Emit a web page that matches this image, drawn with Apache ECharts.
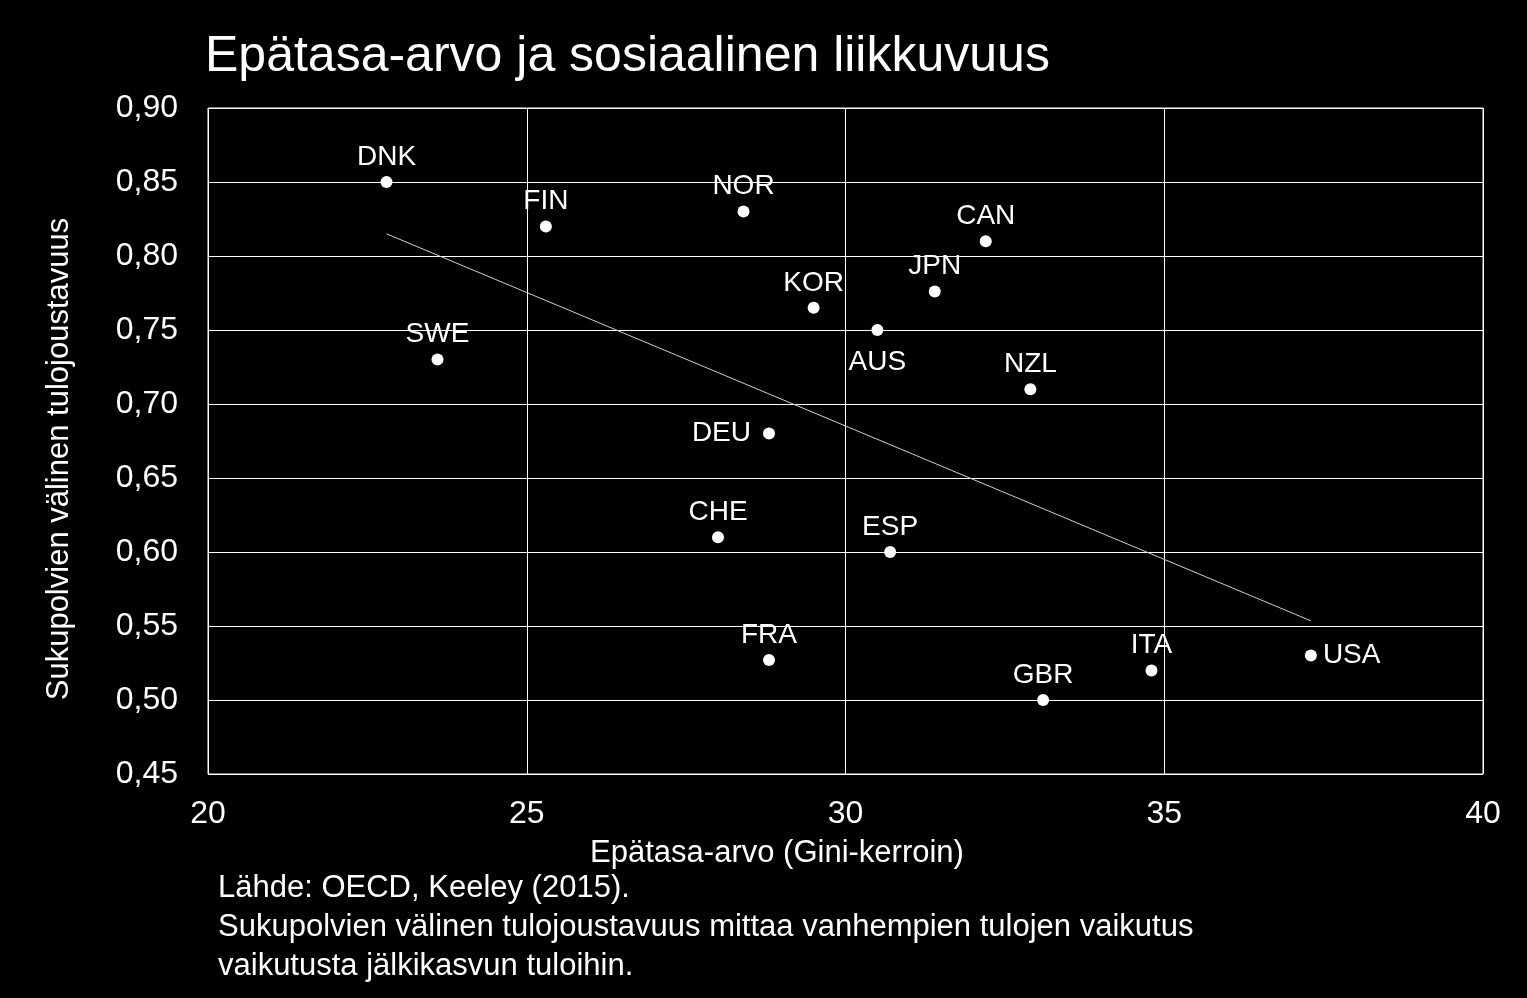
<!DOCTYPE html>
<html>
<head>
<meta charset="utf-8">
<title>Epätasa-arvo ja sosiaalinen liikkuvuus</title>
<script src="https://cdn.jsdelivr.net/npm/echarts@6/dist/echarts.min.js"></script>
<style>
  html, body { margin: 0; padding: 0; background: #000; }
  #chart { width: 1527px; height: 998px; }
</style>
</head>
<body>
<div id="chart"></div>
<script>
// maat ja arvot (luettu kuvasta)
const countries = ['DNK', 'FIN', 'NOR', 'CAN', 'JPN', 'KOR', 'AUS', 'SWE', 'NZL', 'DEU', 'CHE', 'ESP', 'FRA', 'GBR', 'ITA', 'USA']
const gini = [22.8, 25.3, 28.4, 32.2, 31.4, 29.5, 30.5, 23.6, 32.9, 28.8, 28.0, 30.7, 28.8, 33.1, 34.8, 37.3]
const elasticity = [0.85, 0.82, 0.83, 0.81, 0.776, 0.765, 0.75, 0.73, 0.71, 0.68, 0.61, 0.60, 0.527, 0.50, 0.52, 0.53]

// trendiviivan päätepisteet
const trendX = [22.8, 37.3]
const trendY = [0.815, 0.5535]

// akselit
const xTicks = [20, 25, 30, 35, 40]
const yTickLabels = ['0,45', '0,50', '0,55', '0,60', '0,65', '0,70', '0,75', '0,80', '0,85', '0,90']

const FONT = '"Liberation Sans", Arial, sans-serif'

// label placement per country (default: top)
const labelPlace = {
  AUS: { position: 'bottom', distance: 12 },
  DEU: { position: 'left', distance: 12 },
  USA: { position: 'right', distance: 6 }
}

const points = countries.map((c, i) => {
  const item = { value: [gini[i], elasticity[i]], name: c }
  if (labelPlace[c]) item.label = labelPlace[c]
  return item
})

const myChart = echarts.init(document.getElementById('chart'))
const option = {
  backgroundColor: '#000',
  animation: false,
  grid: {
    left: 208,
    top: 108,
    right: 44,
    bottom: 224,
    show: true,
    borderColor: '#fff',
    borderWidth: 1
  },
  xAxis: {
    type: 'value',
    min: xTicks[0],
    max: xTicks[xTicks.length - 1],
    interval: 5,
    axisLine: { show: false },
    axisTick: { show: false },
    splitLine: { lineStyle: { color: '#fff', width: 1 } },
    axisLabel: {
      color: '#fff',
      fontSize: 32,
      fontFamily: FONT,
      margin: 24
    }
  },
  yAxis: {
    type: 'value',
    min: 0.45,
    max: 0.90,
    interval: 0.05,
    axisLine: { show: false },
    axisTick: { show: false },
    splitLine: { lineStyle: { color: '#fff', width: 1 } },
    axisLabel: {
      color: '#fff',
      fontSize: 32,
      fontFamily: FONT,
      margin: 30,
      formatter: v => yTickLabels[Math.round((v - 0.45) / 0.05)]
    }
  },
  graphic: [
    {
      type: 'text',
      left: 205,
      top: 32,
      style: {
        text: 'Epätasa-arvo ja sosiaalinen liikkuvuus',
        fill: '#fff',
        font: '50px ' + FONT
      }
    },
    {
      type: 'text',
      x: 59,
      y: 459,
      rotation: Math.PI / 2,
      style: {
        text: 'Sukupolvien välinen tulojoustavuus',
        fill: '#fff',
        font: '31px ' + FONT,
        align: 'center',
        verticalAlign: 'middle'
      }
    },
    {
      type: 'text',
      x: 777,
      y: 853,
      style: {
        text: 'Epätasa-arvo (Gini-kerroin)',
        fill: '#fff',
        font: '31px ' + FONT,
        align: 'center',
        verticalAlign: 'middle'
      }
    },
    {
      type: 'text',
      x: 218,
      y: 888,
      style: {
        text: 'Lähde: OECD, Keeley (2015).',
        fill: '#fff',
        font: '31px ' + FONT,
        verticalAlign: 'middle'
      }
    },
    {
      type: 'text',
      x: 218,
      y: 927,
      style: {
        text: 'Sukupolvien välinen tulojoustavuus mittaa vanhempien tulojen vaikutus',
        fill: '#fff',
        font: '31px ' + FONT,
        verticalAlign: 'middle'
      }
    },
    {
      type: 'text',
      x: 218,
      y: 966,
      style: {
        text: 'vaikutusta jälkikasvun tuloihin.',
        fill: '#fff',
        font: '31px ' + FONT,
        verticalAlign: 'middle'
      }
    }
  ],
  series: [
    {
      name: 'trendi',
      type: 'line',
      data: trendX.map((x, i) => [x, trendY[i]]),
      symbol: 'none',
      silent: true,
      lineStyle: { color: '#d0d0d0', width: 1 },
      z: 1
    },
    {
      name: 'maat',
      type: 'scatter',
      data: points,
      symbolSize: 12,
      itemStyle: { color: '#fff', opacity: 1 },
      label: {
        show: true,
        position: 'top',
        distance: 5,
        color: '#fff',
        fontSize: 28,
        fontFamily: FONT,
        formatter: p => p.name
      },
      z: 3
    }
  ]
}
myChart.setOption(option)
</script>
</body>
</html>
